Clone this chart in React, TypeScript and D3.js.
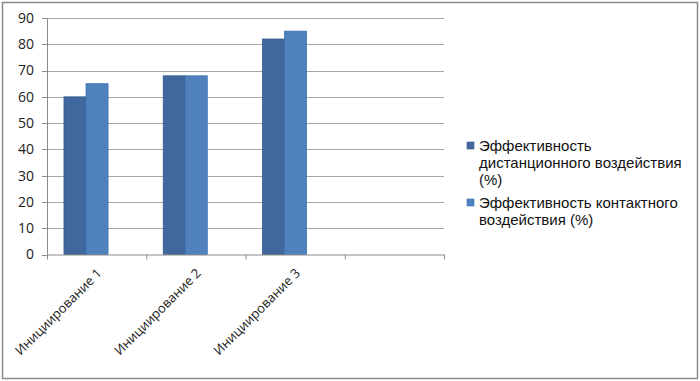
import React from "react";
import * as d3 from "d3";

const categories = ["Инициирование 1", "Инициирование 2", "Инициирование 3", ""];
const distant = [60, 68, 82, null];
const contact = [65, 68, 85, null];
const yTicks = [0, 10, 20, 30, 40, 50, 60, 70, 80, 90];
const seriesNames = [
  ["Эффективность", "дистанционного воздействия", "(%)"],
  ["Эффективность контактного", "воздействия (%)"],
];
const colors = ["#41689E", "#4F81BD"];
const strokes = ["#365B8C", "#3E73B5"];

export default function App() {
  const W = 700, H = 381;
  const left = 47, right = 444, top = 18, bottom = 254.5;
  const x = d3.scaleBand<string>().domain(categories.map((c, i) => String(i))).range([left, right]).padding(0);
  const y = d3.scaleLinear().domain([0, 90]).range([bottom, top]);
  const bw = x.bandwidth();
  const barW = bw * 0.222;
  const off = bw * 0.171;
  const font = "'Open Sans', 'Liberation Sans', sans-serif";
  const series = [distant, contact];
  return (
    <svg width={W} height={H} style={{ position: "absolute", left: 0, top: 0 }}>
      <rect x={0} y={0} width={W} height={H} fill="#fff" />
      <rect x={2.5} y={2.5} width={695} height={376} fill="none" stroke="#8a8a8a" strokeWidth={1.5} />
      {yTicks.map((t) => (
        <g key={t}>
          {t > 0 && <line x1={left} x2={right} y1={Math.round(y(t)) + 0.5} y2={Math.round(y(t)) + 0.5} stroke="#a6a6a6" strokeWidth={1} />}
          <line x1={left - 5} x2={left} y1={Math.round(y(t)) + 0.5} y2={Math.round(y(t)) + 0.5} stroke="#8c8c8c" />
          <text x={34} y={y(t)} dy="0.35em" textAnchor="end" fontSize={14} fontFamily={font} fill="#222">{t}</text>
        </g>
      ))}
      {series.map((s, si) =>
        s.map((v, i) =>
          v == null ? null : (
            <rect key={si + "-" + i}
              x={(x(String(i)) as number) + off + si * barW}
              y={y(v)}
              width={barW}
              height={bottom - y(v)}
              fill={colors[si]}
              stroke={strokes[si]}
              strokeWidth={0.8}
            />
          )
        )
      )}
      <line x1={left + 0.5} x2={left + 0.5} y1={top} y2={bottom} stroke="#8c8c8c" />
      <line x1={left} x2={right} y1={bottom + 0.5} y2={bottom + 0.5} stroke="#8c8c8c" />
      {categories.map((c, i) => (
        <line key={"t" + i} x1={(x(String(i)) as number) + 0.5} x2={(x(String(i)) as number) + 0.5} y1={bottom} y2={bottom + 5} stroke="#8c8c8c" />
      ))}
      <line x1={right + 0.5} x2={right + 0.5} y1={bottom} y2={bottom + 5} stroke="#8c8c8c" />
      {categories.map((c, i) => {
        const cx = (x(String(i)) as number) + bw / 2 + 6;
        const cy = 274;
        return (
          <text key={"l" + i} x={cx} y={cy} transform={`rotate(-45, ${cx}, ${cy})`} textAnchor="end" fontSize={13} fontFamily={font} fill="#222">{c}</text>
        );
      })}
      {seriesNames.map((lines, si) => {
        const y0 = si === 0 ? 151 : 208;
        return (
          <g key={"lg" + si}>
            <rect x={467} y={y0 - 9} width={7} height={7} fill={colors[si]} stroke={strokes[si]} strokeWidth={0.6} />
            {lines.map((ln, li) => (
              <text key={li} x={479} y={y0 + li * 17} fontSize={15} fontFamily="'Liberation Sans', Arial, sans-serif" fill="#111">{ln}</text>
            ))}
          </g>
        );
      })}
    </svg>
  );
}
